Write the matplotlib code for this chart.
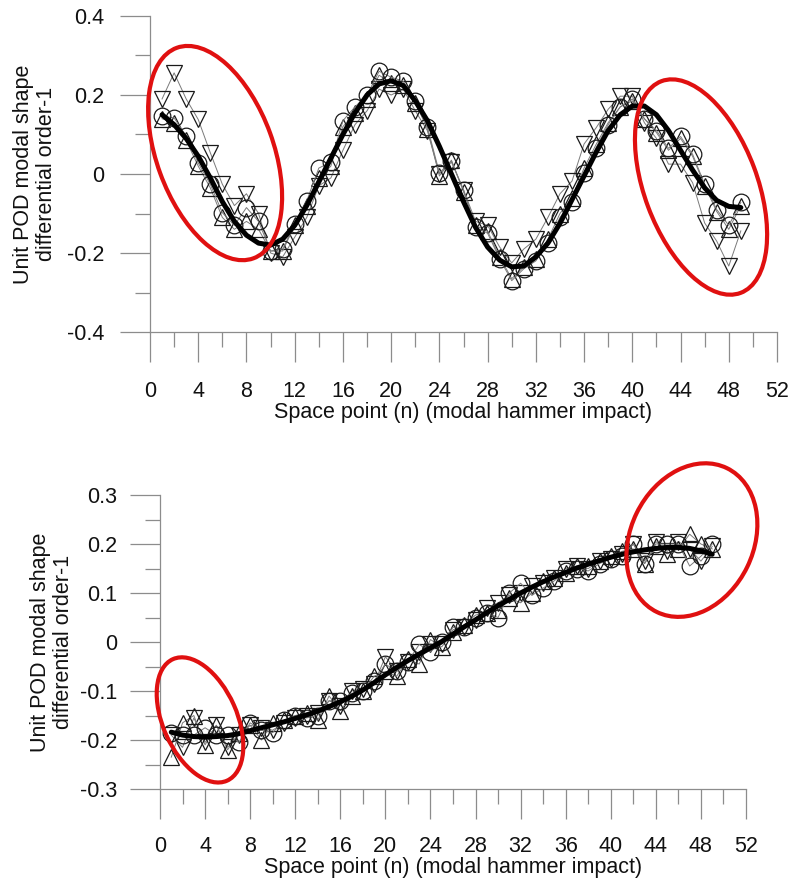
import numpy as np
import matplotlib
matplotlib.use("Agg")
import matplotlib.pyplot as plt
from matplotlib.patches import Ellipse
from matplotlib.ticker import MultipleLocator, FuncFormatter
import matplotlib.transforms as mtransforms

plt.rcParams['font.family'] = ['Liberation Sans', 'DejaVu Sans']

n = list(range(1, 50))

# first mode
top_circle = [0.147, 0.142, 0.096, 0.028, -0.026, -0.098, -0.13, -0.085, -0.12, -0.195,
              -0.19, -0.127, -0.068, 0.015, 0.03, 0.135, 0.17, 0.2, 0.26, 0.245,
              0.235, 0.185, 0.12, 0.003, 0.033, -0.04, -0.135, -0.15, -0.215, -0.27,
              -0.24, -0.22, -0.175, -0.11, -0.07, 0.003, 0.067, 0.125, 0.17, 0.19,
              0.14, 0.11, 0.065, 0.095, 0.05, -0.026, -0.09, -0.13, -0.072]
top_down = [0.19, 0.256, 0.19, 0.138, 0.054, -0.026, -0.08, -0.05, -0.10, -0.2,
            -0.21, -0.16, -0.11, -0.03, -0.01, 0.06, 0.125, 0.16, 0.215, 0.2,
            0.215, 0.16, 0.11, 0.0, 0.03, -0.04, -0.12, -0.13, -0.185, -0.225,
            -0.19, -0.165, -0.11, -0.05, -0.018, 0.076, 0.117, 0.164, 0.197, 0.197,
            0.13, 0.09, 0.025, 0.025, -0.022, -0.124, -0.17, -0.233, -0.144]
top_up = [0.14, 0.13, 0.085, 0.02, -0.035, -0.11, -0.14, -0.12, -0.14, -0.195,
          -0.195, -0.13, -0.08, -0.01, 0.02, 0.12, 0.155, 0.19, 0.25, 0.23,
          0.225, 0.18, 0.115, -0.005, 0.035, -0.045, -0.13, -0.145, -0.21, -0.265,
          -0.235, -0.215, -0.165, -0.1, -0.06, 0.015, 0.075, 0.13, 0.17, 0.185,
          0.14, 0.105, 0.06, 0.09, 0.045, -0.03, -0.095, -0.14, -0.08]
top_fit = [0.15, 0.125, 0.09, 0.045, -0.01, -0.07, -0.12, -0.155, -0.175, -0.18,
           -0.165, -0.13, -0.08, -0.02, 0.04, 0.10, 0.155, 0.2, 0.228, 0.236,
           0.224, 0.185, 0.135, 0.07, 0.0, -0.07, -0.135, -0.185, -0.218, -0.235,
           -0.233, -0.21, -0.175, -0.125, -0.065, -0.005, 0.055, 0.11, 0.15, 0.172,
           0.172, 0.15, 0.11, 0.06, 0.01, -0.035, -0.067, -0.082, -0.085]

# second mode
bot_circle = [-0.185, -0.19, -0.19, -0.175, -0.19, -0.19, -0.205, -0.165, -0.18, -0.185,
              -0.16, -0.15, -0.155, -0.15, -0.12, -0.12, -0.105, -0.1, -0.08, -0.045,
              -0.06, -0.04, -0.005, -0.02, 0.0, 0.03, 0.03, 0.05, 0.06, 0.05,
              0.1, 0.12, 0.095, 0.11, 0.125, 0.145, 0.15, 0.145, 0.16, 0.17,
              0.175, 0.2, 0.16, 0.2, 0.2, 0.2, 0.155, 0.175, 0.2]
bot_down = [-0.19, -0.215, -0.155, -0.205, -0.17, -0.215, -0.19, -0.17, -0.175, -0.18,
            -0.165, -0.155, -0.15, -0.145, -0.12, -0.13, -0.1, -0.095, -0.085, -0.03,
            -0.06, -0.04, -0.02, -0.005, -0.005, 0.025, 0.03, 0.045, 0.07, 0.08,
            0.095, 0.1, 0.115, 0.12, 0.13, 0.15, 0.155, 0.15, 0.165, 0.17,
            0.18, 0.2, 0.165, 0.205, 0.185, 0.205, 0.19, 0.165, 0.195]
bot_up = [-0.235, -0.165, -0.15, -0.21, -0.17, -0.22, -0.185, -0.17, -0.2, -0.165,
          -0.16, -0.15, -0.145, -0.16, -0.11, -0.14, -0.11, -0.1, -0.07, -0.06,
          -0.07, -0.035, -0.045, 0.005, -0.01, 0.02, 0.035, 0.055, 0.06, 0.065,
          0.09, 0.08, 0.1, 0.125, 0.13, 0.14, 0.155, 0.155, 0.165, 0.175,
          0.185, 0.19, 0.16, 0.195, 0.18, 0.19, 0.22, 0.2, 0.19]
bot_fit = [-0.184, -0.19, -0.193, -0.194, -0.193, -0.191, -0.187, -0.181, -0.175, -0.169,
           -0.163, -0.156, -0.149, -0.141, -0.132, -0.122, -0.111, -0.098, -0.083, -0.067,
           -0.052, -0.038, -0.025, -0.012, 0.001, 0.016, 0.031, 0.045, 0.06, 0.074,
           0.087, 0.1, 0.112, 0.123, 0.133, 0.142, 0.151, 0.159, 0.166, 0.173,
           0.179, 0.184, 0.188, 0.191, 0.193, 0.193, 0.191, 0.186, 0.179]

xlabel = 'Space point (n) (modal hammer impact)'
ylabel = 'Unit POD modal shape\ndifferential order-1'

fig = plt.figure(figsize=(7.91, 8.82), dpi=100)
ax1 = fig.add_axes([150 / 791, 1 - 332 / 882, 627 / 791, 316 / 882])
ax2 = fig.add_axes([160 / 791, 1 - 789 / 882, 586 / 791, 294 / 882])

axis_gray = '#8c8c8c'
fs = 15.5
fmt = FuncFormatter(lambda v, p: '0' if abs(v) < 1e-9 else ('%g' % round(v, 2)))


def draw_panel(ax, circ, down, up, fit, ylim, ymaj, ymin, xpad, ypad):
    line_kw = dict(color='#7a7a7a', lw=0.7, mfc='none', mec='#1a1a1a', mew=0.9, ms=12)
    ax.plot(n, down, marker='v', **line_kw)
    ax.plot(n, up, marker='^', **line_kw)
    ax.plot(n, circ, marker='o', **line_kw)
    ax.plot(n, fit, color='black', lw=3.6, solid_capstyle='round', zorder=5)

    ax.set_xlim(0, 52)
    ax.set_ylim(*ylim)
    ax.xaxis.set_major_locator(MultipleLocator(4))
    ax.xaxis.set_minor_locator(MultipleLocator(2))
    ax.yaxis.set_major_locator(MultipleLocator(ymaj))
    ax.yaxis.set_minor_locator(MultipleLocator(ymin))
    ax.yaxis.set_major_formatter(fmt)

    for side in ['top', 'right']:
        ax.spines[side].set_visible(False)
    for side in ['left', 'bottom']:
        ax.spines[side].set_color(axis_gray)
        ax.spines[side].set_linewidth(0.9)

    # long outward ticks: 30 px major, 15 px minor
    ax.tick_params(which='major', direction='out', length=21.6, width=0.9,
                   color=axis_gray, labelsize=fs, labelcolor='#111111')
    ax.tick_params(which='minor', direction='out', length=10.8, width=0.9,
                   color=axis_gray)
    ax.tick_params(axis='x', which='major', pad=xpad)
    ax.tick_params(axis='y', which='major', pad=ypad)

    ax.set_xlabel(xlabel, fontsize=fs, color='#111111')
    ax.set_ylabel(ylabel, fontsize=fs, color='#111111', va='center',
                  linespacing=1.1)


draw_panel(ax1, top_circle, top_down, top_up, top_fit, (-0.4, 0.4), 0.2, 0.1, 13.5, 11)
draw_panel(ax2, bot_circle, bot_down, bot_up, bot_fit, (-0.3, 0.3), 0.1, 0.05, 12.5, 9.4)

ax1.xaxis.set_label_coords(0.5, (332 - 402) / 316)
ax1.yaxis.set_label_coords((35 - 150) / 627, 0.5)
ax2.xaxis.set_label_coords(0.5, (789 - 857) / 294)
ax2.yaxis.set_label_coords((52 - 160) / 586, 0.5)


# red highlight ellipses: centre in data units, size in pixels
def ring(ax, cx, cy, w_px, h_px, angle):
    tr = fig.dpi_scale_trans + mtransforms.ScaledTranslation(cx, cy, ax.transData)
    e = Ellipse((0, 0), w_px / fig.dpi, h_px / fig.dpi, angle=angle,
                transform=tr, fill=False, edgecolor='#e01010', lw=3.0,
                zorder=10, clip_on=False)
    ax.add_patch(e)


ring(ax1, 5.4, 0.053, 117, 224, 20)
ring(ax1, 45.7, -0.033, 113, 226, 20.5)
ring(ax2, 3.55, -0.159, 74, 133, 24)
ring(ax2, 47.2, 0.208, 123, 160, -26)

fig.savefig('out.png', dpi=100)
